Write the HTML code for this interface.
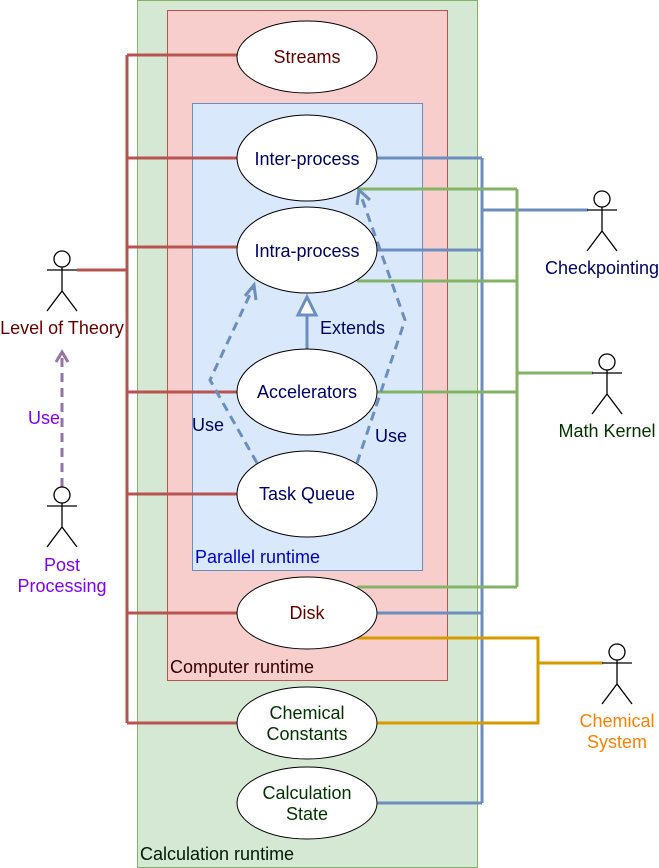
<!DOCTYPE html>
<html><head><meta charset="utf-8"><style>body{margin:0;background:#fff}svg{display:block}text{font-family:"Liberation Sans",sans-serif;font-size:18px}</style></head><body>
<svg width="659" height="868" viewBox="0 0 659 868" xmlns="http://www.w3.org/2000/svg">
<rect x="137.5" y="0.5" width="340" height="867" fill="#d5e8d4" stroke="#82b366"/>
<rect x="167.5" y="10.5" width="280" height="670" fill="#f8cecc" stroke="#b85450"/>
<rect x="192.5" y="103.5" width="230" height="467" fill="#dae8fc" stroke="#6c8ebf"/>
<g fill="none" stroke-width="3">
<g stroke="#b85450">
<path d="M127 55V723M127 55H237M127 158H237M127 247H237M127 392H237M127 494H237M127 613H237M127 723H237M77 270H127"/>
</g>
<g stroke="#6c8ebf">
<path d="M482 158V803M377 158H482M377 250H482M377 613H482M377 803H482M482 210H588"/>
</g>
<g stroke="#82b366">
<path d="M517 189V587M357 189H517M357 281H517M377 392H517M357 587H517M517 373H593"/>
</g>
<g stroke="#d79b00">
<path d="M357 638H538V723H377M538 663H603"/>
</g>
<g stroke="#6c8ebf" stroke-dasharray="9 6">
<path d="M257 463L210 380L253 288"/>
<path d="M357 463L405 320L360 193"/>
</g>
<path d="M245 296L254 285L256 300" stroke="#6c8ebf"/>
<path d="M357 205L359 190L370 200" stroke="#6c8ebf"/>
<path d="M307 349V316" stroke="#6c8ebf"/>
<path d="M62 487V355" stroke="#9673a6" stroke-dasharray="9 6"/>
<path d="M56 362L62 352L68 362" stroke="#9673a6"/>
</g>
<path d="M307 297L298 315H316Z" fill="#fff" stroke="#6c8ebf" stroke-width="3"/>
<g fill="#fff" stroke="#000">
<ellipse cx="307" cy="57" rx="70" ry="36"/>
<ellipse cx="307" cy="158" rx="70" ry="43"/>
<ellipse cx="307" cy="250" rx="70" ry="43"/>
<ellipse cx="307" cy="392" rx="70" ry="43"/>
<ellipse cx="307" cy="494" rx="70" ry="43"/>
<ellipse cx="307" cy="613" rx="70" ry="36"/>
<ellipse cx="307" cy="723" rx="70" ry="36"/>
<ellipse cx="307" cy="803" rx="70" ry="36"/>
</g>
<g fill="#fff" stroke="#000" stroke-width="1.3">
<g transform="translate(62,0)"><circle cx="0" cy="259" r="8"/><path d="M0 267V291M-15 270H15M0 291L-15 311M0 291L15 311" fill="none"/></g>
<g transform="translate(62,236)"><circle cx="0" cy="259" r="8"/><path d="M0 267V291M-15 270H15M0 291L-15 311M0 291L15 311" fill="none"/></g>
<g transform="translate(602,-60)"><circle cx="0" cy="259" r="8"/><path d="M0 267V291M-15 270H15M0 291L-15 311M0 291L15 311" fill="none"/></g>
<g transform="translate(607,103)"><circle cx="0" cy="259" r="8"/><path d="M0 267V291M-15 270H15M0 291L-15 311M0 291L15 311" fill="none"/></g>
<g transform="translate(617,393)"><circle cx="0" cy="259" r="8"/><path d="M0 267V291M-15 270H15M0 291L-15 311M0 291L15 311" fill="none"/></g>
</g>
<g text-anchor="middle">
<text x="307" y="63" fill="#660000">Streams</text>
<text x="307" y="165" fill="#000066">Inter-process</text>
<text x="307" y="257" fill="#000066">Intra-process</text>
<text x="307" y="398" fill="#000066">Accelerators</text>
<text x="307" y="500" fill="#000066">Task Queue</text>
<text x="307" y="619" fill="#660000">Disk</text>
<text x="307" y="719" fill="#003300">Chemical</text>
<text x="307" y="740" fill="#003300">Constants</text>
<text x="307" y="799" fill="#003300">Calculation</text>
<text x="307" y="820" fill="#003300">State</text>
<text x="62" y="334" fill="#660000">Level of Theory</text>
<text x="62" y="571" fill="#7f00ff">Post</text>
<text x="62" y="592" fill="#7f00ff">Processing</text>
<text x="602" y="274" fill="#000066">Checkpointing</text>
<text x="607" y="437" fill="#003300">Math Kernel</text>
<text x="617" y="727" fill="#ff8000">Chemical</text>
<text x="617" y="748" fill="#ff8000">System</text>
<text x="44" y="424" fill="#7f00ff">Use</text>
</g>
<text x="320" y="334" fill="#000066">Extends</text>
<text x="192" y="431" fill="#000066">Use</text>
<text x="375" y="442" fill="#000066">Use</text>
<text x="195" y="563" fill="#0000cc">Parallel runtime</text>
<text x="170" y="673" fill="#330000">Computer runtime</text>
<text x="140" y="860" fill="#001a00">Calculation runtime</text>
</svg>
</body></html>
